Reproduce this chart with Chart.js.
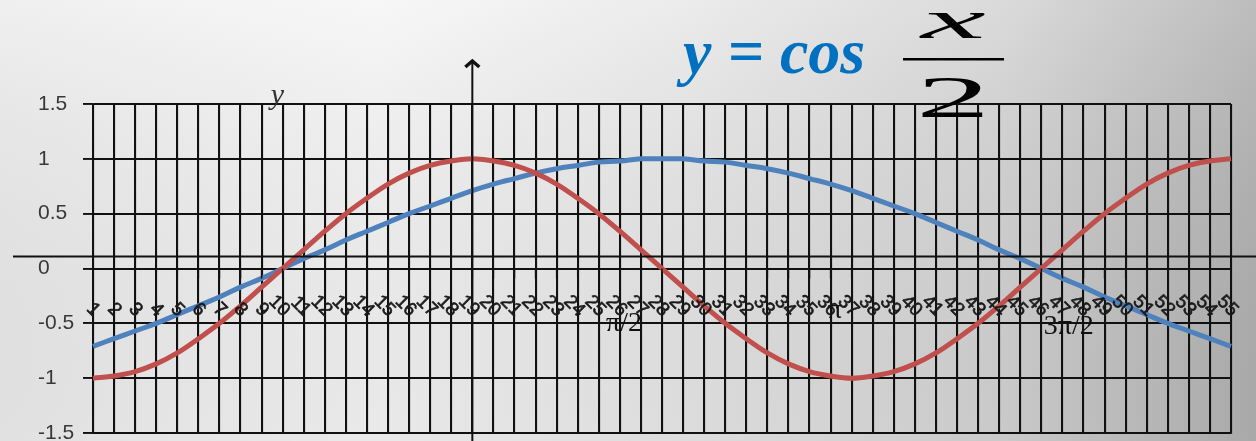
<!DOCTYPE html>
<html>
<head>
<meta charset="utf-8">
<title>y = cos x/2</title>
<script src="https://cdn.jsdelivr.net/npm/chart.js@4/dist/chart.umd.min.js"></script>
<style>
  html, body { margin: 0; padding: 0; background: #e8e8e8; }
  #wrap { width: 1256px; height: 441px; }
</style>
</head>
<body>
<div id="wrap"><canvas id="chart" width="1256" height="441"></canvas></div>
<script>
// category numbers along the x axis (10 degrees per step)
var categories = [1, 2, 3, 4, 5, 6, 7, 8, 9, 10, 11, 12, 13, 14, 15, 16, 17, 18, 19, 20,
                  21, 22, 23, 24, 25, 26, 27, 28, 29, 30, 31, 32, 33, 34, 35, 36, 37, 38, 39, 40,
                  41, 42, 43, 44, 45, 46, 47, 48, 49, 50, 51, 52, 53, 54, 55];

// red curve: y = cos x
var cosX = [-1, -0.98, -0.94, -0.87, -0.77, -0.64, -0.5, -0.34, -0.17, 0,
            0.17, 0.34, 0.5, 0.64, 0.77, 0.87, 0.94, 0.98, 1, 0.98,
            0.94, 0.87, 0.77, 0.64, 0.5, 0.34, 0.17, 0, -0.17, -0.34,
            -0.5, -0.64, -0.77, -0.87, -0.94, -0.98, -1, -0.98, -0.94, -0.87,
            -0.77, -0.64, -0.5, -0.34, -0.17, 0, 0.17, 0.34, 0.5, 0.64,
            0.77, 0.87, 0.94, 0.98, 1];

// blue curve: y = cos x/2
var cosHalfX = [-0.71, -0.64, -0.57, -0.5, -0.42, -0.34, -0.26, -0.17, -0.09, 0,
                0.09, 0.17, 0.26, 0.34, 0.42, 0.5, 0.57, 0.64, 0.71, 0.77,
                0.82, 0.87, 0.91, 0.94, 0.97, 0.98, 1, 1, 1, 0.98,
                0.97, 0.94, 0.91, 0.87, 0.82, 0.77, 0.71, 0.64, 0.57, 0.5,
                0.42, 0.34, 0.26, 0.17, 0.09, 0, -0.09, -0.17, -0.26, -0.34,
                -0.42, -0.5, -0.57, -0.64, -0.71];

var yTicks = [-1.5, -1, -0.5, 0, 0.5, 1, 1.5];

// angle marks written on the x axis, placed at a category number
var angleMarks = [
  { text: 'π/2', at: 26.2, dy: 62 },
  { text: 'π', at: 36.2, dy: 49 },
  { text: '3π/2', at: 47.3, dy: 65 }
];

// draws one glyph stretched to fill the box l,t - r,b
function drawFitted(ctx, text, font, l, t, r, b) {
  ctx.save();
  ctx.font = font;
  ctx.textAlign = 'left';
  ctx.textBaseline = 'alphabetic';
  var m = ctx.measureText(text);
  var w = m.actualBoundingBoxLeft + m.actualBoundingBoxRight;
  var h = m.actualBoundingBoxAscent + m.actualBoundingBoxDescent;
  ctx.translate(l, t);
  ctx.scale((r - l) / w, (b - t) / h);
  ctx.fillText(text, m.actualBoundingBoxLeft, m.actualBoundingBoxAscent);
  ctx.restore();
}

// gray slide background
var backdrop = {
  id: 'backdrop',
  beforeDraw: function(chart) {
    var ctx = chart.ctx, w = chart.width, h = chart.height;
    ctx.save();
    var g = ctx.createLinearGradient(0, 0, w, 0);
    g.addColorStop(0, '#ededed');
    g.addColorStop(0.3, '#f6f6f6');
    g.addColorStop(0.55, '#e8e8e8');
    g.addColorStop(0.8, '#d4d4d4');
    g.addColorStop(1, '#b2b2b2');
    ctx.fillStyle = g;
    ctx.fillRect(0, 0, w, h);
    var v = ctx.createLinearGradient(0, 0, 0, h);
    v.addColorStop(0, 'rgba(255,255,255,0.15)');
    v.addColorStop(1, 'rgba(0,0,0,0.05)');
    ctx.fillStyle = v;
    ctx.fillRect(0, 0, w, h);
    ctx.restore();
  }
};

// axes arrows, rotated category labels, angle marks and the formula
var overlay = {
  id: 'overlay',
  afterDatasetsDraw: function(chart) {
    var ctx = chart.ctx;
    var xs = chart.scales.x, ys = chart.scales.y;
    var zeroY = ys.getPixelForValue(0);
    var axisX = xs.getPixelForValue(18);

    ctx.save();
    ctx.strokeStyle = '#111';

    // small ticks under the zero line
    ctx.lineWidth = 1.5;
    categories.forEach(function(c, i) {
      var px = xs.getPixelForValue(i);
      ctx.beginPath();
      ctx.moveTo(px, zeroY);
      ctx.lineTo(px, zeroY + 10);
      ctx.stroke();
    });

    // x axis drawn across the whole slide
    ctx.lineWidth = 2;
    ctx.beginPath();
    ctx.moveTo(13, zeroY - 12);
    ctx.lineTo(chart.width, zeroY - 12);
    ctx.stroke();

    // y axis with arrow head
    ctx.beginPath();
    ctx.moveTo(axisX, 62);
    ctx.lineTo(axisX, chart.height);
    ctx.stroke();
    ctx.lineWidth = 3.5;
    ctx.beginPath();
    ctx.moveTo(axisX - 7, 67);
    ctx.lineTo(axisX, 61);
    ctx.lineTo(axisX + 7, 67);
    ctx.stroke();

    // rotated category labels
    ctx.fillStyle = '#1a1a1a';
    ctx.strokeStyle = '#1a1a1a';
    ctx.lineWidth = 0.6;
    ctx.font = '19px "Liberation Sans", sans-serif';
    ctx.textAlign = 'right';
    ctx.textBaseline = 'middle';
    categories.forEach(function(c, i) {
      var px = xs.getPixelForValue(i);
      ctx.save();
      ctx.translate(px + 4, zeroY + 45);
      ctx.rotate(Math.PI / 4);
      ctx.fillText(String(c), 0, 0);
      ctx.strokeText(String(c), 0, 0);
      ctx.restore();
    });

    // angle marks
    ctx.font = '28px "Liberation Serif", serif';
    ctx.textAlign = 'center';
    ctx.textBaseline = 'alphabetic';
    ctx.fillStyle = '#111';
    angleMarks.forEach(function(m) {
      ctx.fillText(m.text, xs.getPixelForValue(m.at - 1), zeroY + m.dy);
    });

    // y label near the axis
    ctx.font = 'italic 30px "Liberation Serif", serif';
    ctx.fillStyle = '#333';
    ctx.fillText('y', axisX - 195, 104);

    // formula: y = cos x/2
    ctx.textAlign = 'left';
    ctx.font = 'bold italic 64px "Liberation Serif", serif';
    ctx.fillStyle = '#0070c0';
    ctx.fillText('y = cos', 683, 73);

    ctx.fillStyle = '#000';
    drawFitted(ctx, 'x', 'italic 100px "Liberation Serif", serif', 918, 13, 985, 38);
    ctx.fillRect(903, 58, 101, 2.5);
    drawFitted(ctx, '2', '100px "Liberation Serif", serif', 922, 78, 983, 118);

    ctx.restore();
  }
};

var ctx = document.getElementById('chart').getContext('2d');

new Chart(ctx, {
  type: 'line',
  data: {
    labels: categories,
    datasets: [
      {
        label: 'y = cos x',
        data: cosX,
        borderColor: '#c0504d',
        borderWidth: 5,
        pointRadius: 0,
        tension: 0.4,
        fill: false
      },
      {
        label: 'y = cos x/2',
        data: cosHalfX,
        borderColor: '#4f81bd',
        borderWidth: 5,
        pointRadius: 0,
        tension: 0.4,
        fill: false
      }
    ]
  },
  options: {
    responsive: false,
    animation: false,
    devicePixelRatio: 1,
    layout: { padding: { top: 104, right: 25, bottom: 8, left: 38 } },
    plugins: {
      legend: { display: false },
      tooltip: { enabled: false }
    },
    scales: {
      x: {
        offset: false,
        grid: { color: '#111', lineWidth: 2.1, drawTicks: false },
        border: { display: true, color: '#111', width: 1.8 },
        ticks: { display: false },
        afterFit: function(scale) { scale.height = 0; }
      },
      y: {
        min: -1.5,
        max: 1.5,
        afterBuildTicks: function(scale) {
          scale.ticks = yTicks.map(function(v) { return { value: v }; });
        },
        grid: { color: '#111', lineWidth: 1.9, tickLength: 10 },
        border: { display: true, color: '#111', width: 1.8 },
        ticks: {
          crossAlign: 'far',
          padding: 10,
          color: '#383838',
          font: { family: '"Liberation Sans", sans-serif', size: 21 },
          callback: function(v) { return String(v); }
        },
        afterFit: function(scale) {
          scale.width = 55;
          scale.paddingTop = 0;
          scale.paddingBottom = 0;
        }
      }
    }
  },
  plugins: [backdrop, overlay]
});
</script>
</body>
</html>
